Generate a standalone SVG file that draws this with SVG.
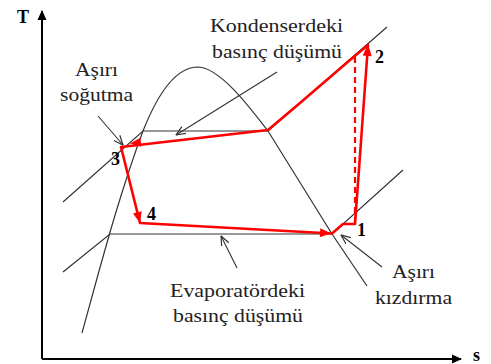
<svg xmlns="http://www.w3.org/2000/svg" width="491" height="364" viewBox="0 0 491 364">
<defs>
<style>
.ax{stroke:#000;stroke-width:2;fill:none}
.ln{stroke:#333;stroke-width:1.2;fill:none}
.ptr{stroke:#333;stroke-width:1.1;fill:none}
.red{stroke:#f00;stroke-width:2.6;fill:none;stroke-linejoin:round;stroke-linecap:round}
.dash{stroke:#f00;stroke-width:2.2;fill:none;stroke-dasharray:6 4}
.rh{fill:#f00}
.lbl{font-family:"Liberation Serif","Times New Roman",serif;font-size:19px;fill:#222}
.num{font-family:"Liberation Serif","Times New Roman",serif;font-size:18px;font-weight:bold;fill:#000}
</style>
<marker id="open" viewBox="0 0 10 10" refX="9.5" refY="5" markerWidth="10" markerHeight="10" markerUnits="userSpaceOnUse" orient="auto">
<path d="M0,1 L9.5,5 L0,9" fill="none" stroke="#333" stroke-width="1.2"/>
</marker>
<marker id="axh" viewBox="0 0 10 10" refX="9" refY="5" markerWidth="10" markerHeight="10" markerUnits="userSpaceOnUse" orient="auto">
<path d="M0,0.5 L10,5 L0,9.5 Z" fill="#000"/>
</marker>
</defs>
<g id="axes">
<line class="ax" x1="42" y1="359" x2="42" y2="11" marker-end="url(#axh)"/>
<line class="ax" x1="42" y1="359" x2="461" y2="359" marker-end="url(#axh)"/>
<text class="num" x="17" y="23" font-size="17">T</text>
<text class="num" x="473" y="361" font-size="17">s</text>
</g>
<g id="dome">
<path class="ln" d="M82,333 C100,268 118,198 143,131 C160,88 178,67 198,67 C220,68 248,105 268,131 L332,234 L367,286"/>
</g>
<g id="isobars">
<path class="ln" d="M63,202 L143,131 L268,131 L387,27"/>
<path class="ln" d="M63,272 L110,234 L332,234 L403,170"/>
</g>
<g id="connectors">
<line class="ptr" x1="98" y1="116" x2="123" y2="145" marker-end="url(#open)"/>
<line class="ptr" x1="277" y1="72" x2="176" y2="135" marker-end="url(#open)"/>
<line class="ptr" x1="237" y1="268" x2="221" y2="236" marker-end="url(#open)"/>
<line class="ptr" x1="382" y1="267" x2="341" y2="235" marker-end="url(#open)"/>
</g>
<g id="cycle">
<line class="dash" x1="355" y1="57" x2="355" y2="224"/>
<path class="red" d="M355,224 L368,45 M368,45 L350,60 L300,103 L268,130 L121,147 L140,223 L332,233.5 L343,224 L355,224"/>
<polygon class="rh" points="130,143.5 140.4,137.8 141.4,146.8"/>
<polygon class="rh" points="140,223 133,213.4 141.7,211.2"/>
<polygon class="rh" points="331,233.3 319.8,237.2 320.3,228.2"/>
<polygon class="rh" points="368,44 371.7,56.3 362.7,55.6"/>
</g>
<g id="point-labels">
<text class="num" x="111" y="165">3</text>
<text class="num" x="147" y="220">4</text>
<text class="num" x="357" y="236">1</text>
<text class="num" x="375" y="63">2</text>
</g>
<g id="label-kondenser">
<text class="lbl" x="210" y="32" textLength="133" lengthAdjust="spacingAndGlyphs">Kondenserdeki</text>
<text class="lbl" x="212" y="58" textLength="130" lengthAdjust="spacingAndGlyphs">basınç düşümü</text>
</g>
<g id="label-asiri-sogutma">
<text class="lbl" x="75" y="76" textLength="43" lengthAdjust="spacingAndGlyphs">Aşırı</text>
<text class="lbl" x="60" y="101" textLength="73" lengthAdjust="spacingAndGlyphs">soğutma</text>
</g>
<g id="label-evaporator">
<text class="lbl" x="170" y="297" textLength="135" lengthAdjust="spacingAndGlyphs">Evaporatördeki</text>
<text class="lbl" x="173" y="322" textLength="130" lengthAdjust="spacingAndGlyphs">basınç düşümü</text>
</g>
<g id="label-asiri-kizdirma">
<text class="lbl" x="392" y="278" textLength="43" lengthAdjust="spacingAndGlyphs">Aşırı</text>
<text class="lbl" x="375" y="304" textLength="77" lengthAdjust="spacingAndGlyphs">kızdırma</text>
</g>
</svg>
